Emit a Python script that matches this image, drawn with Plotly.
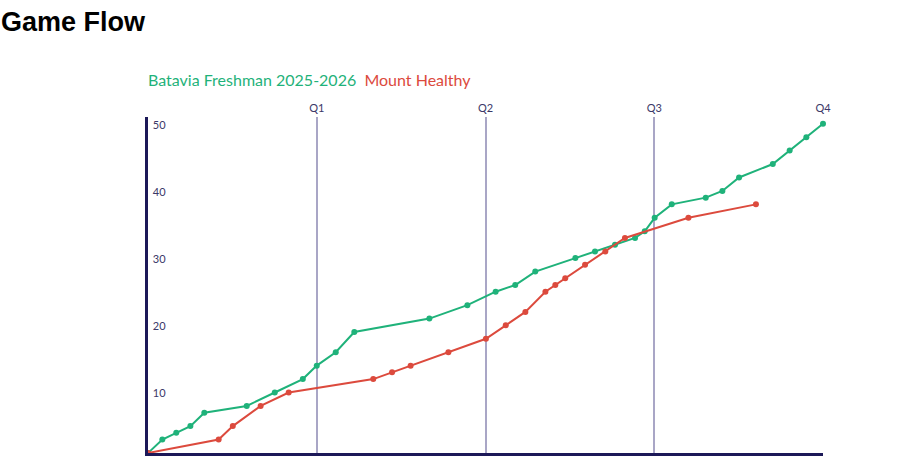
import plotly.graph_objects as go

# elapsed game time in minutes (8-minute quarters) and running score
home_name = "Batavia Freshman 2025-2026"
away_name = "Mount Healthy"

home_time = [0, 0.68, 1.34, 2.01, 2.67, 4.68, 6.01, 7.34, 8.00, 8.90, 9.78, 13.34, 15.14,
             16.48, 17.41, 18.36, 20.26, 21.19, 22.14, 23.09, 23.55, 24.02, 24.83, 26.44,
             27.23, 28.02, 29.62, 30.42, 31.21, 32.0]
home_score = [0, 2, 3, 4, 6, 7, 9, 11, 13, 15, 18, 20, 22,
              24, 25, 27, 29, 30, 31, 32, 33, 35, 37, 38,
              39, 41, 43, 45, 47, 49]

away_time = [0, 3.35, 4.02, 5.34, 6.67, 10.68, 11.57, 12.45, 14.24, 16.02, 16.96, 17.89,
             18.84, 19.31, 19.78, 20.72, 21.68, 22.61, 25.62, 28.82]
away_score = [0, 2, 4, 7, 9, 11, 12, 13, 15, 17, 19, 21,
              24, 25, 26, 28, 30, 32, 35, 37]

quarter_ends = [8, 16, 24, 32]
quarter_labels = ["Q1", "Q2", "Q3", "Q4"]
y_ticks = [10, 20, 30, 40, 50]

GREEN = "#1fb27a"
RED = "#dc4a3d"
NAVY = "#1c1858"
GRID = "#a9a6c6"
TXT = "#3b3868"

fig = go.Figure()
fig.add_trace(go.Scatter(x=home_time, y=home_score, mode="lines+markers", name=home_name,
                         line=dict(color=GREEN, width=2), marker=dict(color=GREEN, size=6),
                         cliponaxis=False))
fig.add_trace(go.Scatter(x=away_time, y=away_score, mode="lines+markers", name=away_name,
                         line=dict(color=RED, width=2), marker=dict(color=RED, size=6),
                         cliponaxis=False))
# invisible trace to anchor the top quarter axis
fig.add_trace(go.Scatter(x=quarter_ends, y=[0] * 4, xaxis="x2", mode="markers",
                         marker=dict(opacity=0), hoverinfo="skip", showlegend=False))

fig.update_layout(
    width=898, height=469,
    margin=dict(l=148, r=75, t=117, b=16),
    paper_bgcolor="white", plot_bgcolor="white",
    showlegend=False,
    title=dict(text="<b>Game Flow</b>", x=0.001, xanchor="left", xref="container",
               y=1 - 22 / 469, yanchor="middle", yref="container",
               font=dict(family="Liberation Sans, Arial", size=27, color="black")),
    xaxis=dict(range=[0, 32], showline=True, linecolor=NAVY, linewidth=2.5,
               showgrid=True, gridcolor=GRID, gridwidth=1.5,
               tickvals=quarter_ends, showticklabels=False, ticks="", zeroline=False),
    xaxis2=dict(range=[0, 32], overlaying="x", side="top", matches="x",
                tickvals=quarter_ends, ticktext=quarter_labels, showgrid=False,
                showline=False, ticks="", zeroline=False, ticklabelstandoff=2,
                tickfont=dict(family="Lato", size=11, color=TXT)),
    yaxis=dict(range=[0, 50], showline=True, linecolor=NAVY, linewidth=2.5,
               showgrid=False, zeroline=False, tickvals=y_ticks, ticks="",
               ticklabelposition="inside bottom", ticklabelstandoff=3,
               tickfont=dict(family="Lato", size=11, color=TXT)),
    annotations=[dict(
        text=f'<span style="color:{GREEN}">{home_name}</span>  '
             f'<span style="color:{RED}">{away_name}</span>',
        xref="paper", yref="paper", x=-2 / 675, y=1 + (117 - 80) / 336,
        xanchor="left", yanchor="middle", showarrow=False,
        font=dict(family="Lato", size=16))],
)

fig.write_html("out.html", config={"displayModeBar": False},
               post_script="document.body.style.margin='0';")
